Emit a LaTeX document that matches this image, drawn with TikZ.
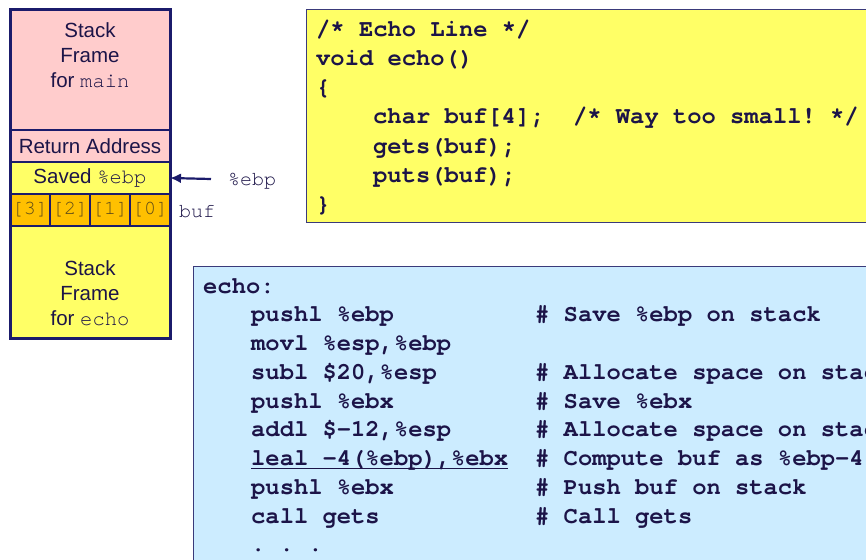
\documentclass[tikz,border=0pt]{standalone}
\usepackage{fontspec}
\setmainfont{Liberation Sans}
\newfontfamily\codefont{TeX Gyre Cursor}
\usetikzlibrary{arrows.meta}
\definecolor{navy}{HTML}{1B1B6B}
\definecolor{ink}{HTML}{1C1448}
\definecolor{cellink}{HTML}{5A4818}
\definecolor{pinkbg}{HTML}{FFCCCC}
\definecolor{yellowbg}{HTML}{FFFF66}
\definecolor{orangebg}{HTML}{FFC000}
\definecolor{bluebg}{HTML}{CCECFF}
\definecolor{boxline}{HTML}{3A3A7A}
\frenchspacing
\tikzset{
  region/.style={draw=navy, line width=2pt, inner sep=0pt, outer sep=0pt, minimum width=160pt, text=ink,
    font=\fontsize{20.5}{25}\selectfont},
  cell/.style={draw=navy, line width=1.6pt, fill=orangebg, inner sep=0pt, outer sep=0pt,
    minimum width=40pt, minimum height=32pt, text=cellink, font=\codefont\fontsize{20}{22}\selectfont},
  stacktxt/.style={font=\fontsize{20.5}{25}\selectfont, text=ink, align=center, inner sep=0pt},
  mono/.style={font=\codefont\fontsize{20}{24}\selectfont, text=ink, inner sep=0pt, anchor=west},
  codebox/.style={draw=boxline, line width=1pt, inner sep=0pt, outer sep=0pt},
  code/.style={font=\codefont\bfseries\fontsize{23.8}{28.6}\selectfont, text=ink, inner sep=0pt, anchor=base west},
}
\begin{document}
\begin{tikzpicture}[x=1pt,y=-1pt]
\useasboundingbox (0,0) rectangle (866,559);
\clip (0,0) rectangle (866,559);
\fill[white] (0,0) rectangle (866,559);

% ---- stack ----
\node[region, fill=pinkbg, minimum height=120pt] (mainfr) at (90,70) {};
\node[region, fill=pinkbg, minimum height=32pt] (ret) at (90,146) {Return Address};
\node[region, fill=yellowbg, minimum height=32pt] (saved) at (90,178) {Saved {\codefont\%ebp}};
\node[cell] (b3) at (30,210) {[3]};
\node[cell] (b2) at (70,210) {[2]};
\node[cell] (b1) at (110,210) {[1]};
\node[cell] (b0) at (150,210) {[0]};
\node[region, fill=yellowbg, minimum height=112pt] (echofr) at (90,282) {};
\draw[navy, line width=3pt] (mainfr.north west) rectangle (echofr.south east);

\node[stacktxt] (maintxt) at (90,55) {Stack\\Frame\\for {\codefont main}};
\node[stacktxt] (echotxt) at (90,293) {Stack\\Frame\\for {\codefont echo}};

\node[mono] (ebplbl) at (228,181) {\%ebp};
\node[mono] (buflbl) at (179,212) {buf};
\coordinate (arrstart) at (211,179);
\draw[navy, line width=2.2pt, -{Latex[length=11pt,width=10pt]}] (arrstart) -- (saved.east);

% ---- C code box ----
\node[codebox, fill=yellowbg, minimum width=600pt, minimum height=212pt] (cbox) at (606,116) {};
\node[code] (c1) at (316,37) {/* Echo Line */};
\node[code] (c2) at (316,66) {void echo()};
\node[code] (c3) at (316,95) {\{};
\node[code] (c4) at (373,124) {char buf[4];\ \ /* Way too small! */};
\node[code] (c5) at (373,153) {gets(buf);};
\node[code] (c6) at (373,182) {puts(buf);};
\node[code] (c7) at (316,211) {\}};

% ---- assembly box ----
\node[codebox, fill=bluebg, minimum width=700pt, minimum height=320pt] (abox) at (543,426) {};
\node[code] (a0) at (203,293) {echo:};
\node[code] (a1) at (251,321.75) {pushl \%ebp};
\node[code] (a2) at (251,350.5) {movl \%esp,\%ebp};
\node[code] (a3) at (251,379.25) {subl \$20,\%esp};
\node[code] (a4) at (251,408) {pushl \%ebx};
\node[code] (a5) at (251,436.75) {addl \$-12,\%esp};
\node[code] (a6) at (251,465.5) {leal -4(\%ebp),\%ebx};
\node[code] (a7) at (251,494.25) {pushl \%ebx};
\node[code] (a8) at (251,523) {call gets};
\node[code] (a9) at (251,551.75) {.\ .\ .};
\draw[ink, line width=1.3pt] ([yshift=-3pt]a6.base west) -- ([yshift=-3pt]a6.base east);

\node[code] (m1) at (535,321.75) {\# Save \%ebp on stack};
\node[code] (m3) at (535,379.25) {\# Allocate space on stack};
\node[code] (m4) at (535,408) {\# Save \%ebx};
\node[code] (m5) at (535,436.75) {\# Allocate space on stack};
\node[code] (m6) at (535,465.5) {\# Compute buf as \%ebp-4};
\node[code] (m7) at (535,494.25) {\# Push buf on stack};
\node[code] (m8) at (535,523) {\# Call gets};
\end{tikzpicture}
\end{document}
